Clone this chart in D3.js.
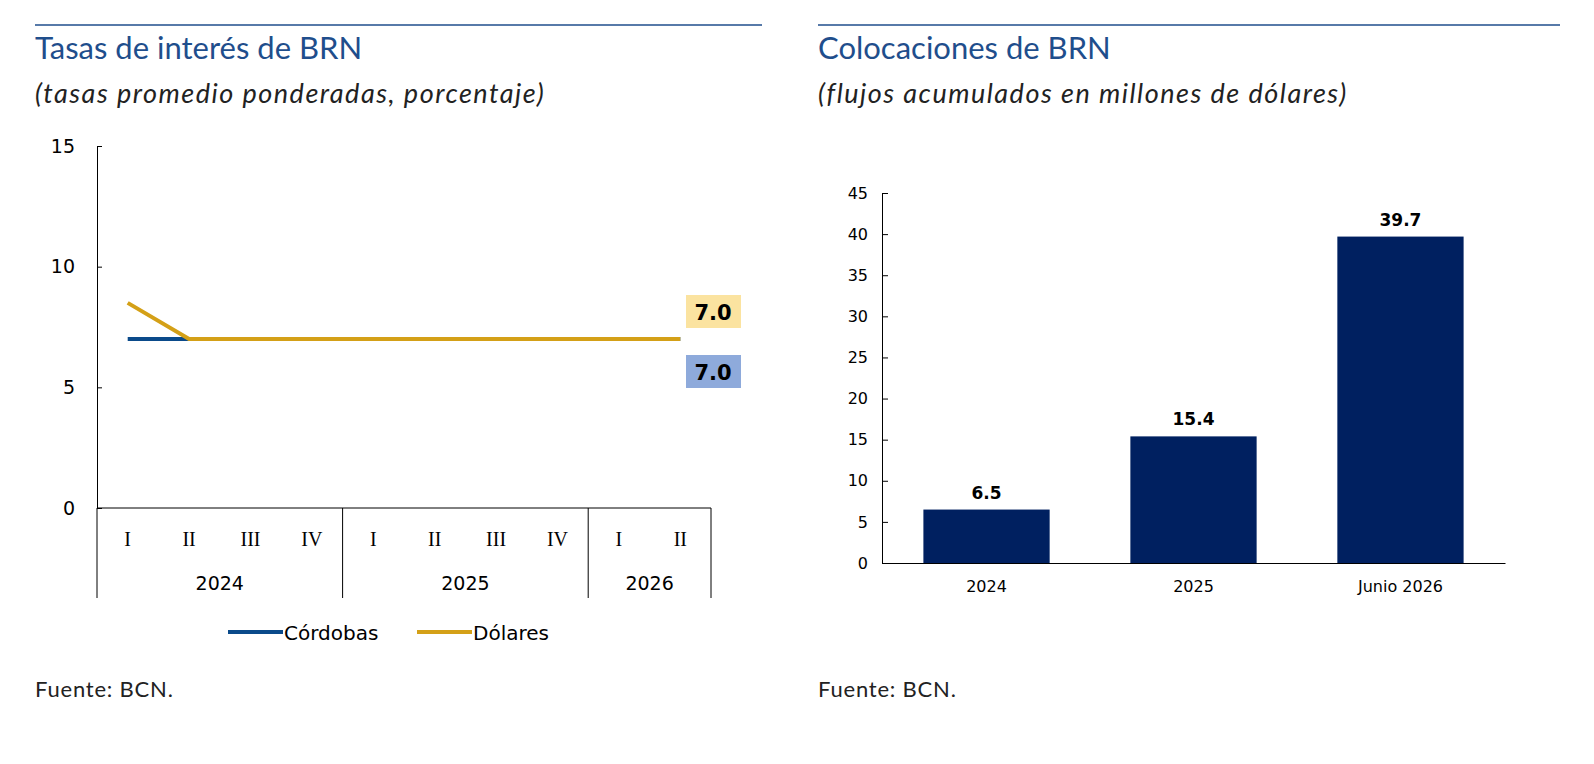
<!DOCTYPE html>
<html><head><meta charset="utf-8">
<script src="https://cdn.jsdelivr.net/npm/d3@7"></script>
<style>body{margin:0;background:#fff}</style>
</head><body>
<svg id="c" width="1594" height="764"></svg>
<script>
// datos
const quarters = ["I","II","III","IV","I","II","III","IV","I","II"];
const years = [{label:"2024", n:4},{label:"2025", n:4},{label:"2026", n:2}];
const cordobas = [7.0,7.0,7.0,7.0,7.0,7.0,7.0,7.0,7.0,7.0];
const dolares  = [8.5,7.0,7.0,7.0,7.0,7.0,7.0,7.0,7.0,7.0];
const barCats = ["2024","2025","Junio 2026"];
const barVals = [6.5,15.4,39.7];

const svg = d3.select("#c");
const navy = "#0a4a8a", gold = "#d4a017", titleC = "#1f4e8c";

function header(x0, x1, title, sub) {
  svg.append("line").attr("x1",x0).attr("x2",x1).attr("y1",25).attr("y2",25).attr("stroke","#1f4e8c").attr("stroke-width",1.5);
  svg.append("text").attr("x",x0).attr("y",59).attr("fill",titleC).style("font","31px Lato").text(title);
  svg.append("text").attr("x",x0).attr("y",103).attr("fill","#222").style("font","italic 27px Lato").style("letter-spacing","1.5px").text(sub);
  svg.append("text").attr("x",x0).attr("y",697).attr("fill","#222").style("font","22px Lato").style("letter-spacing","0.8px").text("Fuente: BCN.");
}
header(35, 762, "Tasas de interés de BRN", "(tasas promedio ponderadas, porcentaje)");
header(818, 1560, "Colocaciones de BRN", "(flujos acumulados en millones de dólares)");

// gráfico izquierdo
const x = d3.scaleBand().domain(d3.range(quarters.length)).range([97,711]);
const y = d3.scaleLinear().domain([0,15]).range([508,146]);
const gl = svg.append("g");
gl.append("g").attr("transform","translate(97,0)")
  .call(d3.axisLeft(y).tickValues([0,5,10,15]).tickSize(5).tickSizeOuter(0))
  .call(g=>{g.select(".domain").attr("stroke","#000");
    g.selectAll("text").style("font","19px 'DejaVu Sans'").attr("fill","#000").attr("x",-22);
    g.selectAll(".tick line").attr("x2",5).attr("x1",0);});
gl.append("line").attr("x1",97).attr("x2",711).attr("y1",y(0)).attr("y2",y(0)).attr("stroke","#000");
quarters.forEach((q,i)=>{
  gl.append("text").attr("x",x(i)+x.bandwidth()/2).attr("y",546).attr("text-anchor","middle")
    .style("font","20px 'Liberation Serif'").text(q);
});
let acc = 0;
const seps = [0];
years.forEach(yr=>{
  const s = x(acc), e = acc+yr.n < quarters.length ? x(acc+yr.n) : x.range()[1];
  gl.append("text").attr("x",(s+e)/2).attr("y",590).attr("text-anchor","middle").style("font","19px 'DejaVu Sans'").text(yr.label);
  acc += yr.n; seps.push(e);
});
seps.forEach((sx,i)=>{
  const sxx = i===0 ? 97 : sx;
  gl.append("line").attr("x1",sxx).attr("x2",sxx).attr("y1",y(0)).attr("y2",598).attr("stroke","#000");
});
const line = d3.line().x((d,i)=>x(i)+x.bandwidth()/2).y(d=>y(d));
gl.append("path").datum(cordobas).attr("d",line).attr("fill","none").attr("stroke",navy).attr("stroke-width",4);
gl.append("path").datum(dolares).attr("d",line).attr("fill","none").attr("stroke",gold).attr("stroke-width",4);
[[dolares, "#fbe3a0", 312],[cordobas, "#8eaadb", 372]].forEach(([s,c,cy])=>{
  gl.append("rect").attr("x",686).attr("y",cy-17).attr("width",55).attr("height",33).attr("fill",c);
  gl.append("text").attr("x",713).attr("y",cy+8).attr("text-anchor","middle").style("font","bold 21px 'DejaVu Sans'").text(s[s.length-1].toFixed(1));
});
[["Córdobas",navy,228],["Dólares",gold,417]].forEach(([t,c,lx])=>{
  gl.append("line").attr("x1",lx).attr("x2",lx+55).attr("y1",632).attr("y2",632).attr("stroke",c).attr("stroke-width",4);
  gl.append("text").attr("x",lx+56).attr("y",640).style("font","20px 'DejaVu Sans'").text(t);
});

// gráfico derecho
const xb = d3.scaleBand().domain(barCats).range([882,1505]).paddingInner(0.39).paddingOuter(0.2);
const yb = d3.scaleLinear().domain([0,45]).range([563,193]);
const gr = svg.append("g");
gr.append("g").attr("transform","translate(882,0)")
  .call(d3.axisLeft(yb).ticks(9).tickSize(6).tickSizeOuter(0))
  .call(g=>{g.select(".domain").attr("stroke","#000");
    g.selectAll("text").style("font","16px 'DejaVu Sans'").attr("fill","#000").attr("x",-14);
    g.selectAll(".tick line").attr("x1",0).attr("x2",6);});
gr.append("g").attr("transform","translate(0,563)")
  .call(d3.axisBottom(xb).tickSize(0))
  .call(g=>{g.select(".domain").attr("stroke","#000");
    g.selectAll("text").style("font","16px 'DejaVu Sans'").attr("fill","#000").attr("dy","1.6em");});
gr.selectAll("rect.b").data(barVals).join("rect").attr("class","b")
  .attr("x",(d,i)=>xb(barCats[i])).attr("width",xb.bandwidth())
  .attr("y",d=>yb(d)).attr("height",d=>yb(0)-yb(d)).attr("fill","#002060");
gr.selectAll("text.v").data(barVals).join("text").attr("class","v")
  .attr("x",(d,i)=>xb(barCats[i])+xb.bandwidth()/2).attr("y",d=>yb(d)-11).attr("text-anchor","middle")
  .style("font","bold 17px 'DejaVu Sans'").text(d=>d.toFixed(1));
</script>
</body></html>
